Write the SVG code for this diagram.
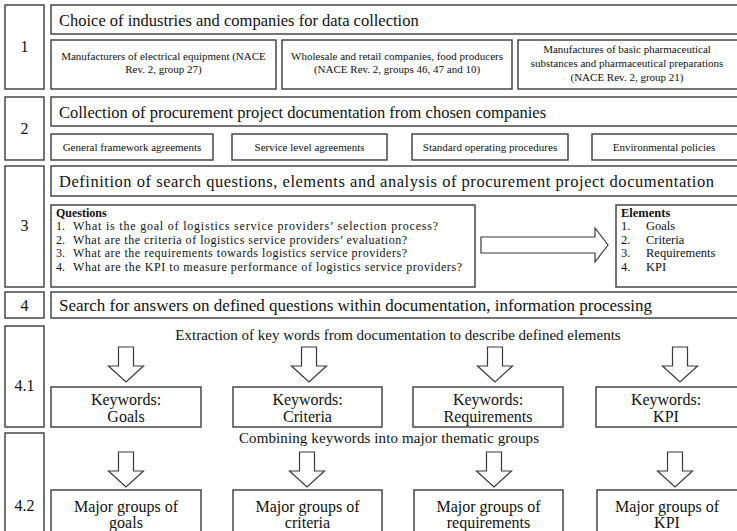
<svg xmlns="http://www.w3.org/2000/svg" width="737" height="531" viewBox="0 0 737 531">
  <style>
    .box { fill: #ffffff; stroke: #3a3a3a; stroke-width: 1.4; }
    .arrow { fill: #ffffff; stroke: #3a3a3a; stroke-width: 1.2; stroke-linejoin: miter; }
    text { font-family: "Liberation Serif", "Times New Roman", serif; fill: #111111; }
    .num { font-size: 16px; text-anchor: middle; }
    .hd { font-size: 16.5px; }
    .sm { font-size: 11px; text-anchor: middle; }
    .q { font-size: 12px; }
    .el { font-size: 12.5px; }
    .b { font-weight: bold; }
    .cap { font-size: 15px; text-anchor: middle; }
    .kw { font-size: 16px; text-anchor: middle; }
  </style>
  <defs>
    <!-- hollow block arrow pointing down, origin at top centre of the shaft -->
    <path id="down" class="arrow" d="M -7.5 0 H 7.5 V 19 H 17.5 L 0 35 L -17.5 19 H -7.5 Z"/>
  </defs>

  <rect width="737" height="531" fill="#ffffff"/>

  <!-- Step 1 -->
  <g id="step1">
    <rect class="box" x="5" y="5" width="39" height="84"/>
    <text class="num" x="24.5" y="52">1</text>
    <rect class="box" x="51" y="5" width="690" height="29"/>
    <text class="hd" x="59" y="25.5">Choice of industries and companies for data collection</text>
  </g>
  <g id="industry-electrical">
    <rect class="box" x="51" y="40" width="225" height="49"/>
    <text class="sm" x="163.5" y="59.5">Manufacturers of electrical  equipment (NACE</text>
    <text class="sm" x="163.5" y="73">Rev. 2, group 27)</text>
  </g>
  <g id="industry-wholesale">
    <rect class="box" x="282" y="40" width="230" height="49"/>
    <text class="sm" x="397" y="59.5">Wholesale and retail  companies, food producers</text>
    <text class="sm" x="397" y="73">(NACE Rev. 2, groups 46, 47 and 10)</text>
  </g>
  <g id="industry-pharma">
    <rect class="box" x="518" y="40" width="223" height="49"/>
    <text class="sm" x="627" y="53">Manufactures of basic pharmaceutical</text>
    <text class="sm" x="627" y="67">substances and pharmaceutical preparations</text>
    <text class="sm" x="627" y="80.5">(NACE Rev. 2, group 21)</text>
  </g>

  <!-- Step 2 -->
  <g id="step2">
    <rect class="box" x="5" y="97" width="39" height="63"/>
    <text class="num" x="24.5" y="134">2</text>
    <rect class="box" x="51" y="97" width="690" height="29"/>
    <text class="hd" x="59" y="117.5">Collection of procurement project documentation from chosen companies</text>
  </g>
  <g id="doc-framework">
    <rect class="box" x="51" y="134" width="162" height="26"/>
    <text class="sm" x="132" y="151">General framework agreements</text>
  </g>
  <g id="doc-sla">
    <rect class="box" x="232" y="134" width="155" height="26"/>
    <text class="sm" x="309.5" y="151">Service level agreements</text>
  </g>
  <g id="doc-sop">
    <rect class="box" x="412" y="134" width="156" height="26"/>
    <text class="sm" x="490" y="151">Standard operating procedures</text>
  </g>
  <g id="doc-environment">
    <rect class="box" x="592" y="134" width="149" height="26"/>
    <text class="sm" x="664" y="151">Environmental policies</text>
  </g>

  <!-- Step 3 -->
  <g id="step3">
    <rect class="box" x="5" y="166" width="39" height="121"/>
    <text class="num" x="24.5" y="231">3</text>
    <rect class="box" x="51" y="166" width="690" height="30"/>
    <text class="hd" x="59" y="187" textLength="655" lengthAdjust="spacing">Definition of search questions, elements and analysis of procurement project documentation</text>
  </g>
  <g id="questions">
    <rect class="box" x="51" y="205" width="424" height="82"/>
    <text class="q b" x="56" y="216.5">Questions</text>
    <text class="q" x="56" y="230">1.</text>
    <text class="q" x="73" y="230" textLength="365" lengthAdjust="spacing">What is the goal of logistics service providers’ selection process?</text>
    <text class="q" x="56" y="243.5">2.</text>
    <text class="q" x="73" y="243.5" textLength="334" lengthAdjust="spacing">What are the criteria of logistics service providers’ evaluation?</text>
    <text class="q" x="56" y="257">3.</text>
    <text class="q" x="73" y="257" textLength="334" lengthAdjust="spacing">What are the requirements towards logistics service providers?</text>
    <text class="q" x="56" y="270.5">4.</text>
    <text class="q" x="73" y="270.5" textLength="389" lengthAdjust="spacing">What are the KPI to measure performance of logistics service providers?</text>
  </g>
  <g id="elements">
    <rect class="box" x="616" y="205" width="125" height="82"/>
    <text class="el b" x="621" y="216.5">Elements</text>
    <text class="el" x="621" y="230">1.</text>
    <text class="el" x="646" y="230">Goals</text>
    <text class="el" x="621" y="243.5">2.</text>
    <text class="el" x="646" y="243.5">Criteria</text>
    <text class="el" x="621" y="257">3.</text>
    <text class="el" x="646" y="257">Requirements</text>
    <text class="el" x="621" y="270.5">4.</text>
    <text class="el" x="646" y="270.5">KPI</text>
  </g>

  <!-- Step 4 -->
  <g id="step4">
    <rect class="box" x="5" y="292" width="39" height="26"/>
    <text class="num" x="24.5" y="311">4</text>
    <rect class="box" x="51" y="292" width="690" height="26"/>
    <text class="hd" x="59" y="310.5" style="font-size:17px">Search for answers on defined questions within documentation, information processing</text>
  </g>

  <!-- Step 4.1 -->
  <g id="step4-1">
    <rect class="box" x="5" y="326" width="39" height="101"/>
    <text class="num" x="24.5" y="391">4.1</text>
    <text class="cap" x="398" y="340">Extraction of key words from documentation to describe defined elements</text>
  </g>
  <g id="kw-goals">
    <rect class="box" x="51" y="387" width="150" height="40"/>
    <text class="kw" x="126" y="405">Keywords:</text>
    <text class="kw" x="126" y="422">Goals</text>
  </g>
  <g id="kw-criteria">
    <rect class="box" x="233" y="387" width="149" height="40"/>
    <text class="kw" x="307.5" y="405">Keywords:</text>
    <text class="kw" x="307.5" y="422">Criteria</text>
  </g>
  <g id="kw-requirements">
    <rect class="box" x="413" y="387" width="150" height="40"/>
    <text class="kw" x="488" y="405">Keywords:</text>
    <text class="kw" x="488" y="422">Requirements</text>
  </g>
  <g id="kw-kpi">
    <rect class="box" x="596" y="387" width="145" height="40"/>
    <text class="kw" x="666" y="405">Keywords:</text>
    <text class="kw" x="666" y="422">KPI</text>
  </g>

  <!-- Step 4.2 -->
  <g id="step4-2">
    <rect class="box" x="5" y="433" width="39" height="110"/>
    <text class="num" x="24.5" y="511">4.2</text>
    <text class="cap" x="389" y="443" textLength="300" lengthAdjust="spacing">Combining keywords into major thematic groups</text>
  </g>
  <g id="grp-goals">
    <rect class="box" x="51" y="490" width="150" height="50"/>
    <text class="kw" x="126" y="512">Major groups of</text>
    <text class="kw" x="126" y="528">goals</text>
  </g>
  <g id="grp-criteria">
    <rect class="box" x="233" y="490" width="149" height="50"/>
    <text class="kw" x="307.5" y="512">Major groups of</text>
    <text class="kw" x="307.5" y="528">criteria</text>
  </g>
  <g id="grp-requirements">
    <rect class="box" x="414" y="490" width="149" height="50"/>
    <text class="kw" x="488.5" y="512">Major groups of</text>
    <text class="kw" x="488.5" y="528">requirements</text>
  </g>
  <g id="grp-kpi">
    <rect class="box" x="597" y="490" width="144" height="50"/>
    <text class="kw" x="667" y="512">Major groups of</text>
    <text class="kw" x="667" y="528">KPI</text>
  </g>

  <!-- Connectors -->
  <g id="connectors">
    <path class="arrow" d="M 481 237 H 595 V 228 L 608 245 L 595 262 V 253 H 481 Z"/>
    <use href="#down" x="126" y="347"/>
    <use href="#down" x="309" y="347"/>
    <use href="#down" x="495" y="347"/>
    <use href="#down" x="680" y="347"/>
    <use href="#down" x="126" y="452"/>
    <use href="#down" x="307" y="452"/>
    <use href="#down" x="494" y="452"/>
    <use href="#down" x="675" y="452"/>
  </g>
</svg>
